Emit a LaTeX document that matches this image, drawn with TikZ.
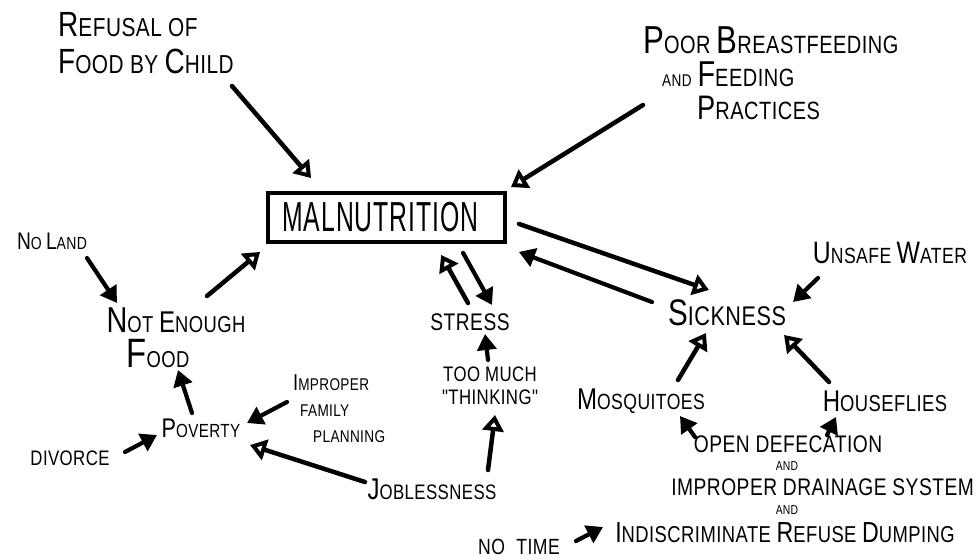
\documentclass[tikz,border=0pt]{standalone}
\usepackage{fontspec}
\newfontfamily\hand[LetterSpace=2,FakeStretch=0.8]{Liberation Sans}
\usetikzlibrary{arrows.meta,calc}
\newcommand\capL[2]{{\fontsize{#1}{#1}\selectfont #2}}
\tikzset{
  lbl/.style={font=\hand, inner sep=0pt, text=black},
  opena/.style={-{Triangle[open,length=16pt,width=21pt]}, line width=4.5pt, line cap=round},
  filla/.style={-{Triangle[length=16pt,width=19pt]}, line width=4.2pt, line cap=round},
}
\begin{document}
\begin{tikzpicture}[x=1pt,y=-1pt]
\useasboundingbox (0,0) rectangle (978,558);

% nodes
\node[lbl, font=\hand\fontsize{26}{37}\selectfont, align=left, anchor=north west] (refusal) at (58,12)
  {\capL{35}{R}EFUSAL OF\\\capL{35}{F}OOD BY \capL{35}{C}HILD};
\node[lbl, font=\hand\fontsize{25}{33}\selectfont, align=left, anchor=north west] (poor) at (643,26)
  {\capL{39}{P}OOR \capL{39}{B}REASTFEEDING\\\hspace*{19pt}\capL{17}{AND} \capL{36}{F}EEDING\\\hspace*{54pt}\capL{34}{P}RACTICES};
\node[draw, line width=3.8pt, minimum width=237pt, minimum height=49pt, inner sep=0pt] (malnut) at (386.5,217.5)
  {\scalebox{0.59}[1]{\fontspec{Liberation Sans}[LetterSpace=4]\fontsize{42}{42}\selectfont MALNUTRITION}\hspace*{12pt}};
\node[lbl, font=\hand\fontsize{17.5}{18}\selectfont] (noland) at (52,241) {\capL{24}{N}O \capL{24}{L}AND};
\node[lbl, font=\hand\fontsize{23}{35}\selectfont, align=center, anchor=north] (notenough) at (176,308)
  {\capL{36}{N}OT \capL{30}{E}NOUGH\\\capL{41}{F}OOD\hspace*{36pt}};
\node[lbl, font=\hand\fontsize{24}{24}\selectfont] (stress) at (470,322) {STRESS};
\node[lbl, font=\hand\fontsize{27}{26}\selectfont] (sickness) at (727,313) {\capL{37}{S}ICKNESS};
\node[lbl, font=\hand\fontsize{22}{22}\selectfont] (unsafe) at (890,253) {\capL{31}{U}NSAFE \capL{31}{W}ATER};
\node[lbl, font=\hand\fontsize{22}{22}\selectfont] (mosq) at (641,401) {\capL{30}{M}OSQUITOES};
\node[lbl, font=\hand\fontsize{23}{22}\selectfont] (housefl) at (885,401) {\capL{30}{H}OUSEFLIES};
\node[lbl, font=\hand\fontsize{21}{23}\selectfont, align=center, anchor=north] (toomuch) at (490,367)
  {TOO MUCH\\"THINKING"};
\node[lbl, font=\hand\fontsize{21}{22}\selectfont] (jobless) at (432,489) {\capL{30}{J}OBLESSNESS};
\node[lbl, font=\hand\fontsize{19}{20}\selectfont] (poverty) at (201,428) {\capL{27}{P}OVERTY};
\node[lbl, font=\hand\fontsize{17}{26}\selectfont, align=left, anchor=north west] (impfp) at (293,374)
  {\capL{23}{I}MPROPER\\\hspace*{7pt}FAMILY\\\hspace*{20pt}PLANNING};
\node[lbl, font=\hand\fontsize{21}{20}\selectfont] (divorce) at (70,458) {DIVORCE};
\node[lbl, font=\hand\fontsize{24}{24}\selectfont] (opendef) at (788,444) {OPEN DEFECATION};
\node[lbl, font=\hand\fontsize{13}{14}\selectfont] (and1) at (787,466) {AND};
\node[lbl, font=\hand\fontsize{24}{24}\selectfont, anchor=east] (drain) at (974,487) {IMPROPER DRAINAGE SYSTEM};
\node[lbl, font=\hand\fontsize{13}{14}\selectfont] (and2) at (787,510) {AND};
\node[lbl, font=\hand\fontsize{23}{24}\selectfont] (refuse) at (785,533) {\capL{29}{I}NDISCRIMINATE \capL{29}{R}EFUSE \capL{29}{D}UMPING};
\node[lbl, font=\hand\fontsize{22}{22}\selectfont] (notime) at (519,547) {NO\hspace{6pt} TIME};

% connectors
\draw[opena] ($(refusal.north west)+(174,74)$) -- ($(malnut.north west)+(45,-13)$);
\draw[opena] ($(poor.north west)+(0,79)$) -- ($(malnut.north east)+(4,-4)$);
\draw[filla] ($(noland)+(35,17)$) -- ($(notenough.north)+(-59,-5)$);
\draw[opena] ($(notenough.north)+(31,-12)$) -- ($(malnut.south west)+(-6,8)$);
\draw[opena] ($(stress)+(-2,-19)$) -- ($(malnut.south west)+(175,11)$);
\draw[filla] ($(malnut.south west)+(197,9)$) -- ($(stress)+(22,-17)$);
\draw[filla] ($(sickness)+(-75,-11)$) -- ($(malnut.south east)+(12,8)$);
\draw[opena] ($(malnut.south east)+(12,-20)$) -- ($(sickness)+(-18,-23)$);
\draw[filla] ($(unsafe)+(-72,25)$) -- ($(sickness)+(66,-11)$);
\draw[opena] ($(mosq)+(37,-21)$) -- ($(sickness)+(-21,20)$);
\draw[opena] ($(housefl)+(-56,-19)$) -- ($(sickness)+(57,22)$);
\draw[filla] ($(toomuch.north)+(-2,-7)$) -- ($(stress)+(15,12)$);
\draw[opena] ($(jobless)+(56,-19)$) -- ($(toomuch.north)+(5,48)$);
\draw[filla] ($(poverty)+(-9,-15)$) -- ($(notenough.north)+(2,62)$);
\draw[filla] ($(impfp.north west)+(-6,28)$) -- ($(poverty)+(46,-5)$);
\draw[filla] ($(divorce)+(55,-6)$) -- ($(poverty)+(-44,7)$);
\draw[opena] ($(jobless)+(-67,-7)$) -- ($(poverty)+(49,17)$);
\draw[filla] ($(opendef)+(-93,-7)$) -- ($(mosq)+(39,15)$);
\draw[filla] ($(opendef)+(39,-9)$) -- ($(housefl)+(-49,16)$);
\draw[filla] ($(notime)+(57,-6)$) -- ($(refuse)+(-182,-6)$);
\end{tikzpicture}
\end{document}
